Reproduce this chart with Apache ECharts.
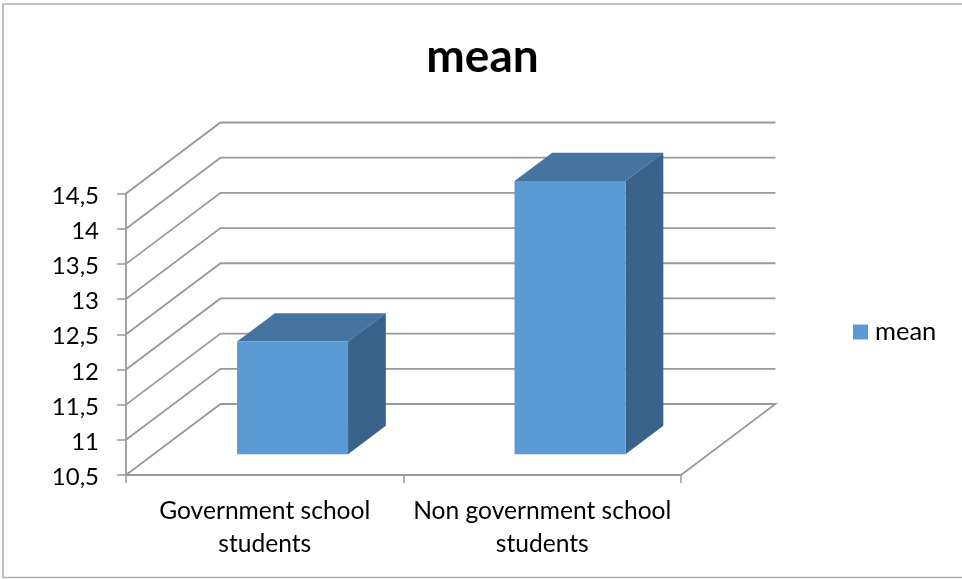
<!DOCTYPE html>
<html>
<head>
<meta charset="utf-8">
<style>html,body{margin:0;padding:0;background:#fff}#c{width:962px;height:579px}</style>
<script src="https://cdn.jsdelivr.net/npm/echarts@6/dist/echarts.min.js"></script>
</head>
<body>
<div id="c"></div>
<script>
const categories = ['Government school\nstudents', 'Non government school\nstudents'];
const meanValues = [12.1, 14.38];
const yTicks = [10.5, 11, 11.5, 12, 12.5, 13, 13.5, 14, 14.5];
const seriesName = 'mean';

const DEPTH_X = 94.5, DEPTH_Y = -71;     // oblique projection of full floor depth
const BAR_FRONT = 0.294, BAR_DEPTH = 0.4; // bar location within the floor depth
const BAR_WIDTH = 0.4;                    // fraction of category band
const LINE = '#999999', FRONT = '#5B9BD5', TOP = '#4574A1', SIDE = '#3A638C';
const FONT = 'Lato';

function renderWalls(params, api) {
  const tick = api.value(0);
  const cs = params.coordSys;
  const p = api.coord([0, tick]);
  const x0 = cs.x, y = p[1], x1 = cs.x + cs.width;
  const pts = [[x0, y], [x0 + DEPTH_X, y + DEPTH_Y], [x1 + DEPTH_X, y + DEPTH_Y]];
  if (tick === yTicks[0]) pts.push([x1, y]);
  return { type: 'polyline', shape: { points: pts },
           style: { stroke: LINE, lineWidth: 1.8, fill: null }, silent: true };
}

function renderBar(params, api) {
  const top = api.coord([api.value(0), api.value(1)]);
  const base = api.coord([api.value(0), yTicks[0]]);
  const w = api.size([1, 0])[0] * BAR_WIDTH;
  const ox = DEPTH_X * BAR_FRONT, oy = DEPTH_Y * BAR_FRONT;
  const dx = DEPTH_X * BAR_DEPTH, dy = DEPTH_Y * BAR_DEPTH;
  const l = top[0] - w / 2 + ox, r = l + w, t = top[1] + oy, b = base[1] + oy;
  return { type: 'group', children: [
    { type: 'polygon', shape: { points: [[l, t], [r, t], [r + dx, t + dy], [l + dx, t + dy]] }, style: { fill: TOP } },
    { type: 'polygon', shape: { points: [[r, t], [r + dx, t + dy], [r + dx, b + dy], [r, b]] }, style: { fill: SIDE } },
    { type: 'rect', shape: { x: l, y: t, width: w, height: b - t }, style: { fill: FRONT } }
  ]};
}

const chart = echarts.init(document.getElementById('c'), null, { renderer: 'canvas' });
chart.setOption({
  animation: false,
  backgroundColor: '#fff',
  title: { text: 'mean', left: 482.5, top: 34, padding: 0, textAlign: 'center',
    textStyle: { fontFamily: FONT, fontSize: 46, fontWeight: 'bold', color: '#000' } },
  legend: { data: [seriesName], left: 853, top: 319, padding: 0, icon: 'rect', itemWidth: 15, itemHeight: 15,
    textStyle: { fontFamily: FONT, fontSize: 25.5, color: '#000', padding: [2, 0, 0, 2] } },
  grid: { left: 126, right: 281, top: 193.5, bottom: 104 },
  xAxis: { type: 'category', data: categories, boundaryGap: true,
    axisLine: { show: true, lineStyle: { color: LINE, width: 1.8 } },
    axisTick: { show: true, length: 8, lineStyle: { color: LINE, width: 1.5 } },
    axisLabel: { color: '#000', fontFamily: FONT, fontSize: 24.6, lineHeight: 33, margin: 20, interval: 0 } },
  yAxis: { type: 'value', min: 10.5, max: 14.5, interval: 0.5, splitLine: { show: false },
    axisLine: { show: true, lineStyle: { color: LINE, width: 1.8 } },
    axisTick: { show: true, length: 9, lineStyle: { color: LINE, width: 1.5 } },
    axisLabel: { color: '#000', fontFamily: FONT, fontSize: 24, margin: 27,
      rich: { n: { color: '#000', fontFamily: FONT, fontSize: 24, padding: [5, 0, 0, 0] } },
      formatter: v => '{n|' + String(v).replace('.', ',') + '}' } },
  graphic: [{ type: 'polyline', silent: true, z: -1,
    shape: { points: [[962, 4], [3, 4], [3, 577.5], [962, 577.5]] },
    style: { fill: null, stroke: '#aeaeae', lineWidth: 1.6 } }],
  series: [
    { name: 'walls', type: 'custom', renderItem: renderWalls, encode: { y: 0 }, z: 1, silent: true,
      data: yTicks.map(t => [t]) },
    { name: seriesName, type: 'custom', renderItem: renderBar, encode: { x: 0, y: 1 }, z: 2,
      itemStyle: { color: FRONT },
      data: meanValues.map((v, i) => [i, v]) }
  ]
});
</script>
</body>
</html>
